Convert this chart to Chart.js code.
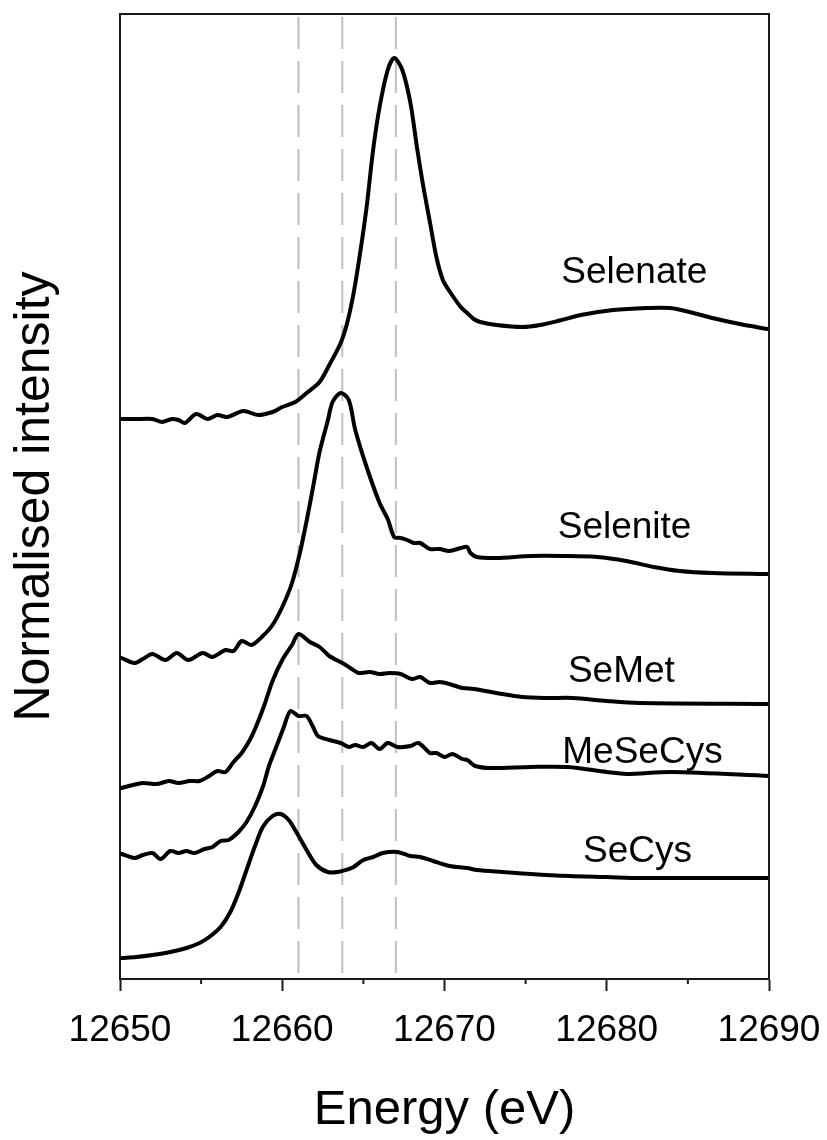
<!DOCTYPE html>
<html>
<head>
<meta charset="utf-8">
<title>Se K-edge XANES</title>
<script src="https://cdn.jsdelivr.net/npm/chart.js@4.4.1/dist/chart.umd.min.js"></script>
<style>
  html, body { margin: 0; padding: 0; background: #fff; overflow: hidden; }
  canvas { display: block; }
</style>
</head>
<body>
<canvas id="xanes" width="827" height="1140"></canvas>
<script>
// energies in eV, intensities normalised and offset
const selenateEnergy = [12650.1, 12651.0, 12652.0, 12652.6, 12653.2, 12653.6, 12654.0, 12654.7, 12655.4, 12656.0, 12656.6, 12657.6, 12658.5, 12659.4, 12660.0, 12660.8, 12661.5, 12662.3, 12662.9, 12663.6, 12664.0, 12664.4, 12664.8, 12665.2, 12665.6, 12666.0, 12666.5, 12666.9, 12667.4, 12667.9, 12668.3, 12668.7, 12669.1, 12669.5, 12669.9, 12670.3, 12671.0, 12671.4, 12671.8, 12672.2, 12673.2, 12674.8, 12675.9, 12677.1, 12678.4, 12680.4, 12682.5, 12683.9, 12685.1, 12686.5, 12688.2, 12689.9];
const selenateIntensity = [5.60, 5.60, 5.60, 5.57, 5.60, 5.59, 5.56, 5.65, 5.60, 5.64, 5.62, 5.68, 5.64, 5.67, 5.72, 5.77, 5.86, 5.97, 6.14, 6.36, 6.56, 6.86, 7.26, 7.72, 8.29, 8.72, 9.09, 9.21, 9.09, 8.76, 8.32, 7.92, 7.57, 7.22, 6.99, 6.88, 6.72, 6.66, 6.60, 6.57, 6.54, 6.52, 6.54, 6.585, 6.64, 6.69, 6.71, 6.71, 6.67, 6.61, 6.55, 6.50];

const seleniteEnergy = [12650.1, 12650.9, 12651.4, 12652.0, 12652.8, 12653.5, 12654.2, 12655.1, 12655.7, 12656.5, 12657.0, 12657.5, 12658.1, 12658.8, 12659.4, 12660.0, 12660.6, 12661.1, 12661.5, 12661.9, 12662.3, 12662.8, 12663.1, 12663.6, 12664.1, 12664.5, 12665.2, 12666.0, 12666.5, 12666.9, 12667.3, 12667.7, 12668.1, 12668.5, 12669.1, 12669.7, 12670.3, 12671.0, 12671.4, 12671.6, 12672.0, 12673.2, 12675.3, 12677.3, 12679.4, 12681.2, 12682.9, 12684.5, 12686.5, 12689.9];
const seleniteIntensity = [3.21, 3.16, 3.20, 3.25, 3.19, 3.26, 3.19, 3.26, 3.22, 3.29, 3.28, 3.38, 3.34, 3.43, 3.54, 3.72, 3.96, 4.27, 4.58, 4.92, 5.27, 5.58, 5.77, 5.86, 5.79, 5.49, 5.12, 4.76, 4.60, 4.42, 4.41, 4.39, 4.36, 4.36, 4.30, 4.30, 4.28, 4.31, 4.32, 4.26, 4.22, 4.21, 4.23, 4.23, 4.22, 4.18, 4.12, 4.08, 4.06, 4.05];

const semetEnergy = [12650.1, 12650.8, 12651.4, 12652.3, 12653.0, 12653.6, 12654.3, 12654.9, 12655.4, 12656.0, 12656.5, 12657.0, 12657.5, 12658.0, 12658.4, 12658.9, 12659.4, 12660.0, 12660.6, 12661.0, 12661.7, 12662.3, 12662.9, 12663.7, 12664.2, 12664.7, 12665.4, 12666.0, 12666.6, 12667.3, 12668.0, 12668.5, 12669.1, 12669.7, 12670.3, 12671.1, 12671.8, 12673.2, 12674.8, 12676.3, 12677.9, 12680.0, 12682.0, 12690.0];
const semetIntensity = [1.91, 1.94, 1.96, 1.95, 1.98, 1.96, 1.98, 1.98, 2.02, 2.08, 2.07, 2.17, 2.26, 2.39, 2.53, 2.74, 2.98, 3.19, 3.34, 3.45, 3.37, 3.32, 3.23, 3.16, 3.11, 3.06, 3.07, 3.05, 3.06, 3.05, 3.00, 3.02, 2.96, 2.97, 2.95, 2.91, 2.90, 2.86, 2.82, 2.81, 2.81, 2.78, 2.76, 2.75];

const mesecysEnergy = [12650.1, 12650.9, 12651.4, 12652.0, 12652.5, 12653.1, 12653.6, 12654.1, 12654.6, 12655.2, 12655.7, 12656.2, 12656.7, 12657.3, 12657.8, 12658.3, 12658.8, 12659.2, 12659.7, 12660.1, 12660.5, 12661.0, 12661.5, 12661.9, 12662.2, 12662.9, 12663.6, 12664.1, 12664.5, 12665.0, 12665.5, 12666.0, 12666.5, 12667.1, 12667.9, 12668.4, 12669.1, 12669.5, 12670.0, 12670.5, 12671.1, 12671.4, 12671.9, 12672.8, 12675.3, 12677.6, 12680.0, 12681.2, 12684.0, 12690.0];
const mesecysIntensity = [1.25, 1.21, 1.24, 1.26, 1.20, 1.28, 1.26, 1.28, 1.26, 1.30, 1.32, 1.38, 1.39, 1.47, 1.57, 1.72, 1.92, 2.14, 2.35, 2.52, 2.68, 2.63, 2.63, 2.52, 2.43, 2.39, 2.36, 2.32, 2.34, 2.32, 2.36, 2.30, 2.36, 2.32, 2.33, 2.36, 2.26, 2.26, 2.22, 2.25, 2.20, 2.19, 2.13, 2.11, 2.12, 2.12, 2.07, 2.05, 2.07, 2.03];

const secysEnergy = [12650.1, 12651.0, 12652.0, 12653.1, 12654.1, 12654.9, 12655.5, 12656.2, 12656.8, 12657.3, 12657.8, 12658.3, 12658.8, 12659.4, 12659.9, 12660.4, 12660.9, 12661.5, 12662.1, 12662.8, 12663.4, 12664.1, 12664.4, 12665.0, 12665.6, 12666.2, 12667.1, 12667.9, 12668.5, 12669.3, 12670.3, 12671.4, 12672.0, 12673.6, 12675.3, 12677.7, 12680.0, 12682.0, 12690.0];
const secysIntensity = [0.21, 0.22, 0.24, 0.27, 0.31, 0.36, 0.42, 0.52, 0.67, 0.86, 1.09, 1.32, 1.52, 1.63, 1.65, 1.59, 1.46, 1.29, 1.14, 1.07, 1.07, 1.10, 1.12, 1.19, 1.22, 1.26, 1.27, 1.23, 1.22, 1.18, 1.13, 1.11, 1.09, 1.07, 1.05, 1.03, 1.02, 1.01, 1.01];

const seriesNames = ["Selenate", "Selenite", "SeMet", "MeSeCys", "SeCys"];
// where each name sits (energy, intensity), text baseline
const labelEnergy = [12681.7, 12681.1, 12680.9, 12682.2, 12681.9];
const labelIntensity = [6.96, 4.41, 2.97, 2.16, 1.17];

const refEnergies = [12661, 12663.7, 12667];
const majorTicks = [12650, 12660, 12670, 12680, 12690];
const minorTicks = [12655, 12665, 12675, 12685];

const FONT = "'Liberation Sans', Arial, sans-serif";
const Y_MAX = 9.65;

const toPoints = (xs, ys) => xs.map((x, i) => ({ x, y: ys[i] }));

const curves = [
  [selenateEnergy, selenateIntensity],
  [seleniteEnergy, seleniteIntensity],
  [semetEnergy, semetIntensity],
  [mesecysEnergy, mesecysIntensity],
  [secysEnergy, secysIntensity],
].map((c, i) => ({
  label: seriesNames[i],
  data: toPoints(c[0], c[1]),
  borderColor: "#000",
  borderWidth: 4,
  borderJoinStyle: "round",
  borderCapStyle: "round",
  pointRadius: 0,
  tension: 0.3,
  fill: false,
  order: 0,
}));

const refLines = refEnergies.map((e) => ({
  label: "ref " + e,
  data: [{ x: e, y: 9.62 }, { x: e, y: 0 }],
  borderColor: "#bebebe",
  borderWidth: 2,
  borderDash: [32, 12],
  pointRadius: 0,
  fill: false,
  order: 1,
}));

const framePlugin = {
  id: "frame",
  afterDatasetsDraw(chart) {
    const { ctx, chartArea: a, scales } = chart;
    ctx.save();
    ctx.strokeStyle = "#1a1a1a";
    ctx.lineWidth = 2;
    ctx.beginPath();
    ctx.moveTo(a.left, a.top);
    ctx.lineTo(a.right, a.top);
    ctx.lineTo(a.right, a.bottom);
    ctx.stroke();

    // minor ticks
    ctx.beginPath();
    minorTicks.forEach((v) => {
      const px = scales.x.getPixelForValue(v);
      ctx.moveTo(px, a.bottom);
      ctx.lineTo(px, a.bottom + 5);
    });
    ctx.stroke();

    // curve names
    ctx.fillStyle = "#000";
    ctx.font = "37px " + FONT;
    ctx.textAlign = "center";
    ctx.textBaseline = "alphabetic";
    seriesNames.forEach((name, i) => {
      ctx.fillText(
        name,
        scales.x.getPixelForValue(labelEnergy[i]),
        scales.y.getPixelForValue(labelIntensity[i])
      );
    });
    ctx.restore();
  },
};

new Chart(document.getElementById("xanes"), {
  type: "line",
  data: { datasets: curves.concat(refLines) },
  options: {
    responsive: false,
    animation: false,
    events: [],
    layout: { padding: { top: 14, right: 58, left: 0, bottom: 0 } },
    plugins: { legend: { display: false }, tooltip: { enabled: false } },
    scales: {
      x: {
        type: "linear",
        min: 12650,
        max: 12690,
        afterBuildTicks: (scale) => {
          scale.ticks = majorTicks.map((v) => ({ value: v }));
        },
        afterFit: (scale) => {
          scale.height = 161;
          scale.paddingLeft = 0;
          scale.paddingRight = 0;
        },
        grid: {
          display: true,
          drawOnChartArea: false,
          drawTicks: true,
          tickLength: 12,
          tickWidth: 2,
          tickColor: "#1a1a1a",
        },
        border: { display: true, color: "#1a1a1a", width: 2 },
        ticks: {
          color: "#000",
          font: { family: FONT, size: 37 },
          padding: 18,
          maxRotation: 0,
          autoSkip: false,
          callback: (v) => String(v),
        },
        title: {
          display: true,
          text: "Energy (eV)",
          color: "#000",
          font: { family: FONT, size: 49 },
          padding: { top: 0, bottom: 0 },
        },
      },
      y: {
        type: "linear",
        min: 0,
        max: Y_MAX,
        afterFit: (scale) => {
          scale.width = 120;
          scale.paddingTop = 0;
          scale.paddingBottom = 0;
        },
        grid: { display: false },
        border: { display: true, color: "#1a1a1a", width: 2 },
        ticks: { display: false },
        title: {
          display: true,
          text: "Normalised intensity",
          color: "#000",
          font: { family: FONT, size: 50 },
          padding: { top: 5, bottom: 0 },
        },
      },
    },
  },
  plugins: [framePlugin],
});
</script>
</body>
</html>
